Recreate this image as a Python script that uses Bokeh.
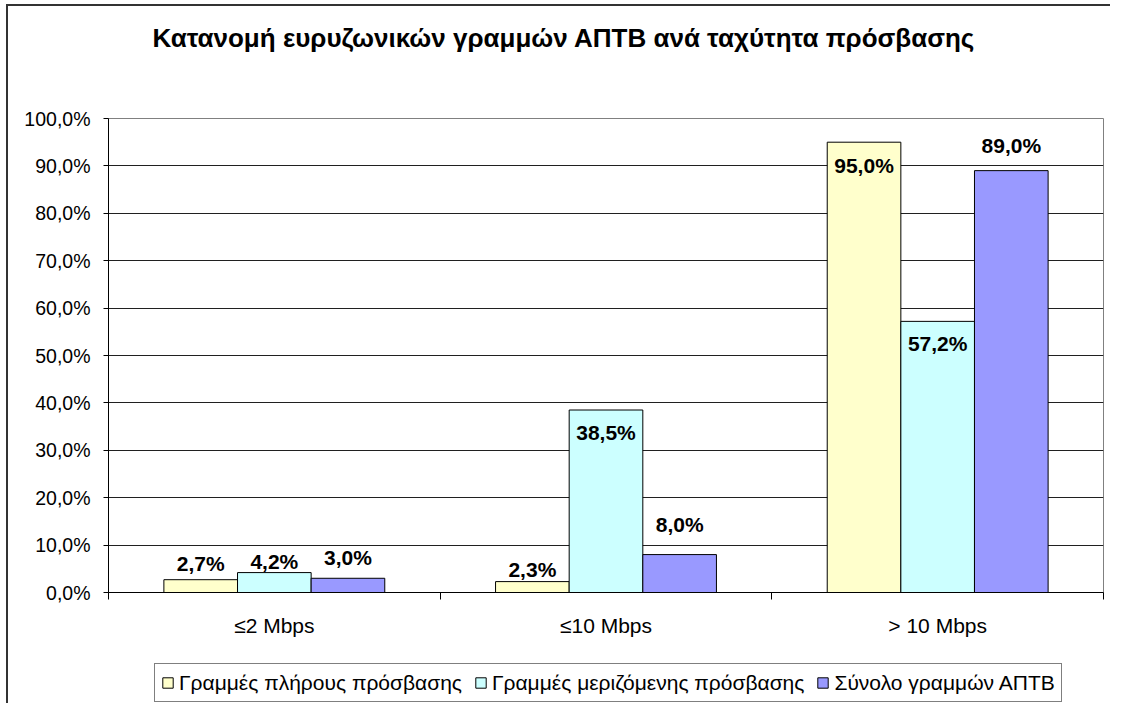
from bokeh.plotting import figure
from bokeh.layouts import column
from bokeh.models import (Range1d, FixedTicker, LinearAxis, Legend, LegendItem,
                          ColumnDataSource, Grid, Title)
from bokeh.core.properties import value
from bokeh.embed import file_html
from bokeh.resources import INLINE

# ---------------- data ----------------
title_text = "Κατανομή ευρυζωνικών γραμμών ΑΠΤΒ ανά ταχύτητα πρόσβασης"
categories = ["≤2 Mbps", "≤10 Mbps", "> 10 Mbps"]
series_names = ["Γραμμές πλήρους πρόσβασης",
                "Γραμμές μεριζόμενης πρόσβασης",
                "Σύνολο γραμμών ΑΠΤΒ"]
full_access = [2.7, 2.3, 95.0]
shared_access = [4.2, 38.5, 57.2]
total_lines = [3.0, 8.0, 89.0]
y_ticks = [0, 10, 20, 30, 40, 50, 60, 70, 80, 90, 100]
y_tick_labels = ["0,0%", "10,0%", "20,0%", "30,0%", "40,0%", "50,0%",
                 "60,0%", "70,0%", "80,0%", "90,0%", "100,0%"]

# ---------------- styling ----------------
colors = ["#FFFFCC", "#CCFFFF", "#9999FF"]
bar_w = 0.222
dodges = [-bar_w, 0.0, bar_w]
# vertical placement of the value labels relative to the bar tops (in %)
label_shift = [[3.4, 2.5, -5.0],
               [2.3, -4.8, -4.7],
               [4.3, 6.3, 5.3]]
FONT = "Liberation Sans"

W, H1, H2 = 1102, 636, 61
p = figure(width=W, height=H1, output_backend="svg", toolbar_location=None,
           x_range=Range1d(0, len(categories)), y_range=Range1d(0, 100),
           x_axis_type=None, y_axis_type=None,
           min_border_left=100, min_border_right=7,
           min_border_top=112, min_border_bottom=50)
p.background_fill_color = "white"
p.border_fill_color = "white"
p.outline_line_color = "#808080"
p.outline_line_width = 1

# title (outermost) with an empty spacer between it and the plot area
p.title.text = title_text
p.title.text_font = FONT
p.title.text_font_size = "26px"
p.title.text_font_style = "bold"
p.title.text_color = "black"
p.title.align = "left"
p.title.offset = 44
p.title.vertical_align = "top"
p.title.standoff = 10
p.add_layout(Title(text=" ", text_font_size="2px", standoff=55), "above")

# y axis
yax = LinearAxis(ticker=FixedTicker(ticks=y_ticks, minor_ticks=[]))
yax.major_label_overrides = {t: l for t, l in zip(y_ticks, y_tick_labels)}
yax.axis_line_color = "black"
yax.major_tick_line_color = "black"
yax.major_tick_out = 5
yax.major_tick_in = 0
yax.minor_tick_line_color = None
yax.major_label_standoff = 13
yax.major_label_text_font = FONT
yax.major_label_text_font_size = "19.5px"
yax.major_label_text_color = "black"
p.add_layout(yax, "left")

# x axis: labels at category centres, tick marks at category boundaries
centers = [i + 0.5 for i in range(len(categories))]
bounds = [float(i) for i in range(len(categories) + 1)]
xax = LinearAxis(ticker=FixedTicker(ticks=centers, minor_ticks=bounds))
xax.major_label_overrides = {c: n for c, n in zip(centers, categories)}
xax.axis_line_color = "black"
xax.major_tick_line_color = None
xax.major_tick_out = 0
xax.major_tick_in = 0
xax.minor_tick_line_color = "black"
xax.minor_tick_out = 7
xax.minor_tick_in = 0
xax.major_label_standoff = 14
xax.major_label_text_font = FONT
xax.major_label_text_font_size = "21px"
xax.major_label_text_color = "black"
p.add_layout(xax, "below")

p.add_layout(Grid(dimension=1, ticker=FixedTicker(ticks=y_ticks),
                  grid_line_color="#202020", grid_line_width=1))

series = [full_access, shared_access, total_lines]
sources = []
for k, vals in enumerate(series):
    xs = [c + dodges[k] for c in centers]
    src = ColumnDataSource(dict(x=xs, top=vals))
    sources.append(src)
    p.vbar(x="x", top="top", width=bar_w, bottom=0, source=src,
           fill_color=colors[k], line_color="black", line_width=1)
    lab = ColumnDataSource(dict(
        x=xs,
        y=[v + s for v, s in zip(vals, label_shift[k])],
        t=[("%.1f" % v).replace(".", ",") + "%" for v in vals]))
    p.text(x="x", y="y", text="t", source=lab, text_align="center",
           text_baseline="middle", text_font=value(FONT),
           text_font_size="21px", text_font_style="bold", text_color="black")

# legend strip below the chart (its renderers are hidden; only the keys show)
pl = figure(width=W, height=H2, output_backend="svg", toolbar_location=None,
            x_range=Range1d(0, len(categories)), y_range=Range1d(0, 100),
            x_axis_type=None, y_axis_type=None,
            min_border_left=0, min_border_right=0,
            min_border_top=0, min_border_bottom=0)
pl.outline_line_color = None
pl.grid.visible = False
leg_renderers = []
for k, name in enumerate(series_names):
    r = pl.vbar(x="x", top="top", width=bar_w, bottom=0, source=sources[k],
                fill_color=colors[k], line_color="black", line_width=1)
    r.visible = False
    leg_renderers.append(r)
legend = Legend(items=[LegendItem(label=n, renderers=[r])
                       for n, r in zip(series_names, leg_renderers)],
                orientation="horizontal", location=(46, 1))
legend.label_text_font = FONT
legend.label_text_font_size = "21px"
legend.label_text_color = "black"
legend.label_height = 25
legend.glyph_width = 13
legend.glyph_height = 13
legend.label_standoff = 5
legend.spacing = 12
legend.padding = 6
legend.margin = 0
legend.border_line_color = "black"
legend.border_line_width = 1
legend.background_fill_color = "white"
legend.background_fill_alpha = 1
legend.inactive_fill_alpha = 0
pl.add_layout(legend, "center")

layout = column(p, pl, spacing=0,
                styles={"margin-left": "6px", "margin-top": "4px",
                        "border-left": "2px solid #333333",
                        "border-top": "2px solid #333333"})

open("out.html", "w").write(file_html(layout, INLINE))
